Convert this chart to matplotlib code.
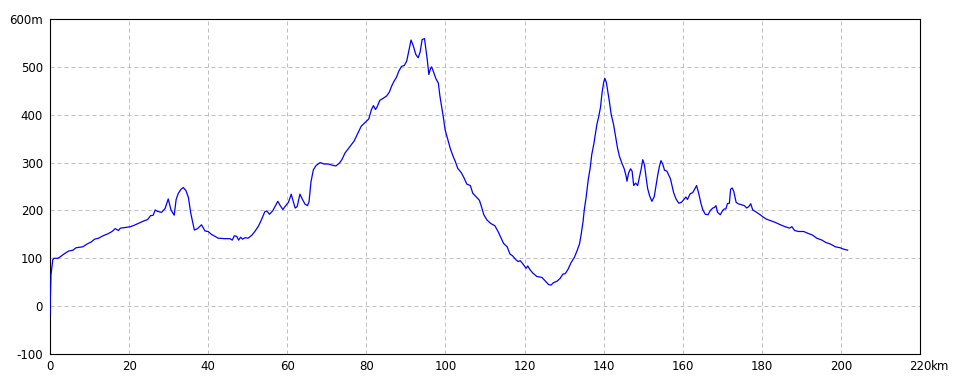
import matplotlib
matplotlib.use('Agg')
import matplotlib.pyplot as plt

# 距離 (km) と標高 (m)  -- 図から読み取った値
dist_km = [0.0, 0.1, 0.25, 0.7, 1.0, 2.0, 2.9, 3.7, 4.7, 5.8, 6.6, 8.3, 9.4, 10.4,
           11.3, 12.3, 13.4, 14.6, 15.7, 16.5, 17.3, 17.8, 18.8, 20.3, 21.3, 22.6,
           23.7, 24.7, 25.4, 26.1, 26.6, 27.2, 28.2, 29.1, 29.9, 30.6, 31.4, 31.9,
           32.4, 33.1, 33.7, 34.4, 35.0, 35.6, 36.5, 37.3, 38.3,
           39.2, 40.0, 40.8, 41.7, 42.5, 44.2, 45.5, 46.1, 46.6, 47.2, 47.7, 48.2,
           48.7, 49.3, 50.1, 51.0, 51.8, 52.7, 53.5, 54.3, 54.8, 55.5, 56.3, 57.0,
           57.6, 58.3, 58.9, 59.6, 60.3, 61.0, 61.5, 62.0, 62.5, 63.2, 63.9, 64.5,
           65.1, 65.5, 66.0, 66.6, 67.3, 68.3, 69.3, 70.4, 71.6, 72.3, 73.2, 73.8,
           74.6, 75.9, 76.9,
           77.9, 78.7, 79.6, 80.6, 81.3, 81.8, 82.3, 82.7, 83.4, 84.2, 85.1, 85.8,
           86.4, 87.0, 87.6, 88.2, 88.9, 89.6, 90.2, 90.8, 91.3, 91.9, 92.5, 93.1,
           93.6, 94.1, 94.7, 95.0, 95.4, 95.8, 96.2, 96.5, 97.0, 97.6, 98.2, 98.6,
           99.1, 99.5, 99.9, 100.6, 101.2, 101.8, 102.5, 103.1, 104.0, 104.7, 105.4,
           106.3, 106.9, 107.7, 108.6, 109.1, 109.7, 110.5, 111.4, 112.5, 113.3,
           114.1, 114.7, 115.6, 116.3, 117.0, 117.7, 118.4, 118.9,
           119.7, 120.4, 120.8, 121.4, 122.1, 123.1, 124.4, 125.2, 126.1, 126.7,
           127.3, 128.2, 129.0, 129.7, 130.3, 131.0, 131.7, 132.6, 133.2, 133.9,
           134.3, 134.8, 135.1, 135.6, 136.1, 136.6, 137.0, 137.5, 137.9, 138.3,
           138.7, 139.2, 139.6, 140.0, 140.3, 140.7, 141.1, 141.5, 141.9, 142.5,
           143.0, 143.5, 144.0, 144.6, 145.2, 145.7, 145.9, 146.3, 146.8, 147.2,
           147.6, 148.1, 148.6, 149.1, 149.5, 149.9, 150.3, 150.7, 151.1, 151.6,
           152.2, 152.8, 153.2, 153.7, 154.1, 154.5, 154.9, 155.4, 156.0,
           156.9, 157.3, 157.7, 158.3, 159.0, 159.7, 160.3, 160.8, 161.2, 161.9,
           162.5, 163.0, 163.5, 164.0, 164.6, 165.1, 165.7, 166.4, 167.0, 167.6,
           168.0, 168.4, 168.8, 169.5, 170.1, 170.5, 170.9, 171.3, 171.8, 172.1,
           172.5, 172.9, 173.5, 174.0, 174.8, 175.6, 176.2, 176.7, 177.2, 177.7,
           178.5, 179.4, 180.2, 181.1, 182.1, 183.4, 184.7, 185.9, 187.0, 187.6,
           188.3, 189.3, 190.6, 191.7, 192.7, 193.9, 195.2, 196.2, 197.3, 198.6,
           199.8, 200.7, 201.7]

elev_m = [-18, 20, 65, 97, 100, 100, 105, 110, 115, 117, 122, 124, 130, 134,
          140, 142, 147, 151, 156, 162, 158, 163, 164, 166, 169, 174,
          178, 181, 189, 190, 201, 198, 196, 204, 224, 201, 190, 223,
          235, 244, 248, 241, 227, 194, 159, 162, 170,
          157, 156, 150, 146, 142, 141, 141, 138, 147, 146, 138, 144,
          140, 143, 142, 148, 156, 167, 181, 197, 199, 192, 199, 210,
          219, 209, 202, 210, 217, 234, 219, 205, 208, 234, 222, 213,
          210, 218, 260, 285, 294, 300, 297, 297, 294, 293, 299, 306,
          320, 334, 345,
          362, 376, 383, 391, 411, 419, 411, 416, 430, 434, 439, 447,
          460, 470, 478, 491, 501, 503, 512, 536, 556, 543, 526, 519,
          531, 557, 559, 540, 515, 484, 496, 500, 489, 475, 466, 439,
          414, 393, 369, 348, 330, 316, 302, 288, 279, 268, 255,
          252, 236, 229, 221, 208, 191, 180, 173, 168, 156,
          142, 131, 124, 109, 105, 98, 93, 95,
          87, 79, 84, 76, 69, 62, 60, 53, 45, 44,
          49, 52, 58, 67, 68, 77, 90, 102, 114, 130,
          149, 177, 201, 229, 264, 289, 317, 338, 359, 380,
          394, 415, 446, 467, 476, 467, 446, 425, 401, 380,
          355, 331, 313, 299, 287, 271, 261, 278, 287, 282,
          252, 257, 252, 271, 287, 306, 296, 271, 247, 231,
          219, 229, 250, 275, 292, 304, 298, 284, 282,
          266, 251, 237, 224, 215, 217, 223, 228, 223, 235,
          237, 244, 252, 237, 215, 201, 192, 191, 200, 205,
          206, 210, 196, 191, 200, 203, 203, 214, 215, 244,
          247, 240, 217, 214, 212, 210, 205, 208, 214, 201,
          197, 192, 187, 182, 179, 175, 170, 166, 163, 166,
          158, 156, 156, 152, 149, 142, 138, 133, 130, 124,
          122, 119, 117]

x_ticks = [0, 20, 40, 60, 80, 100, 120, 140, 160, 180, 200, 220]
x_labels = ['0', '20', '40', '60', '80', '100', '120', '140', '160', '180', '200', '220']
y_ticks = [-100, 0, 100, 200, 300, 400, 500, 600]
y_labels = ['-100', '0', '100', '200', '300', '400', '500', '600m']

plt.rcParams['font.family'] = ['Liberation Sans Narrow', 'DejaVu Sans']

fig = plt.figure(figsize=(9.6, 3.84), dpi=100)
ax = fig.add_axes([50 / 960, 30 / 384, 870 / 960, 335 / 384])

ax.plot(dist_km, elev_m, color='#0000ff', linewidth=0.9, zorder=3)

ax.set_xlim(0, 220)
ax.set_ylim(-100, 600)
ax.set_xticks(x_ticks)
ax.set_xticklabels(x_labels)
ax.set_yticks(y_ticks)
ax.set_yticklabels(y_labels)
ax.tick_params(length=0, labelsize=8.5, colors='black')
ax.tick_params(axis='y', pad=5)
ax.tick_params(axis='x', pad=4.5)

ax.grid(True, color='#c0c0c0', linewidth=0.72, linestyle=(0, (4, 3)))
for sp in ax.spines.values():
    sp.set_linewidth(0.8)
    sp.set_color('black')

# 最後の目盛の単位
ax.annotate('km', xy=(220, 0), xycoords=('data', 'axes fraction'),
            xytext=(11, -6), textcoords='offset pixels',
            ha='left', va='top', fontsize=8.5)

fig.savefig('out.png', dpi=100)
